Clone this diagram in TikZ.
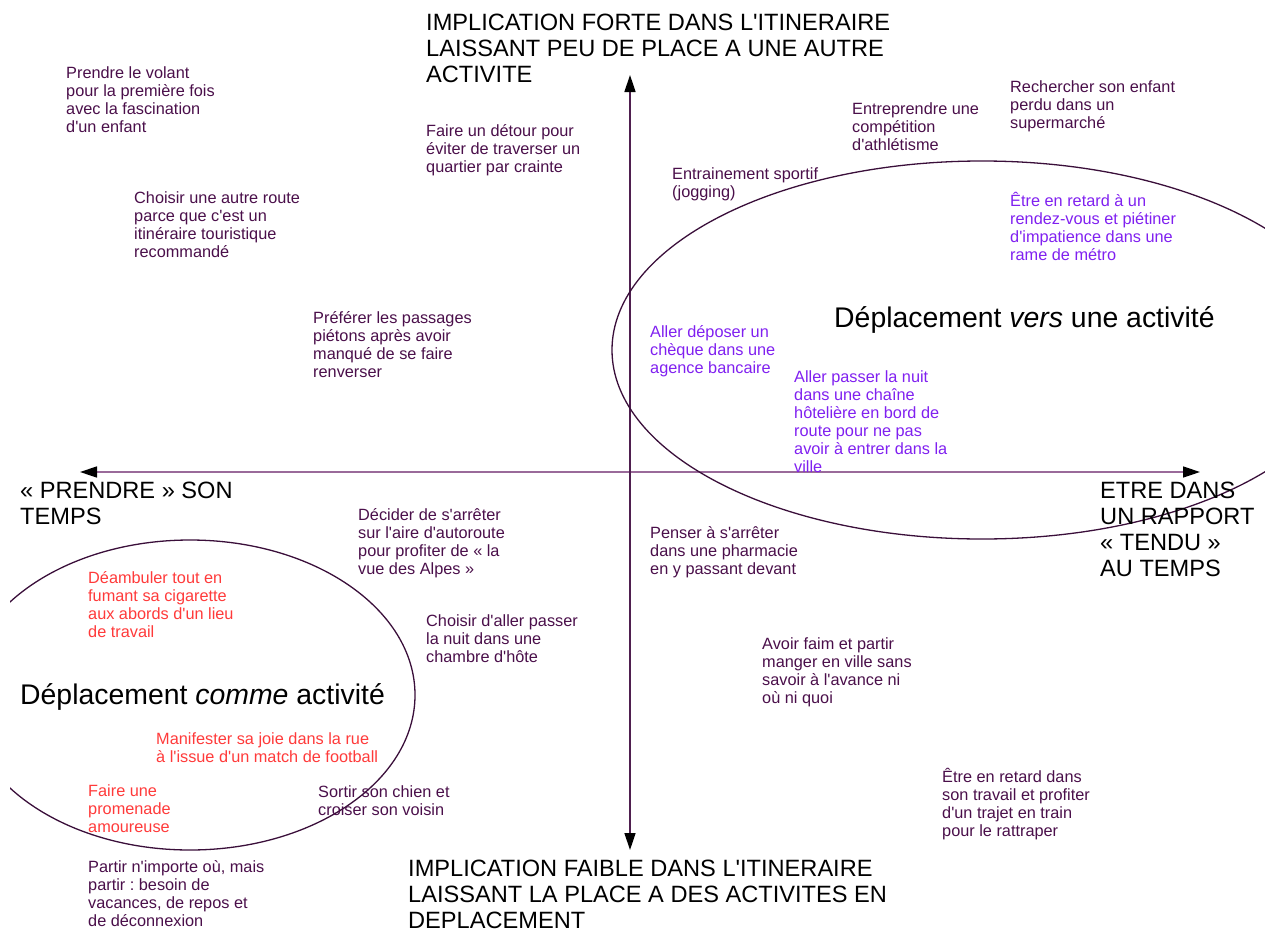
\documentclass[tikz,border=0pt]{standalone}
\usepackage{fontspec}
\newfontfamily\libsans{Liberation Sans}
\usepackage{xcolor}
\usetikzlibrary{arrows.meta}
\definecolor{prune}{HTML}{4A0F4A}
\definecolor{violette}{HTML}{8020F0}
\definecolor{rouge}{HTML}{FF3A3A}
\definecolor{axev}{HTML}{4F1F4F}
\definecolor{axeh}{HTML}{9A6A9A}
\definecolor{bord}{HTML}{3A0F3A}
\frenchspacing

\begin{document}
\begin{tikzpicture}[x=1pt, y=-1pt, >=latex,
    petit/.style={anchor=north west, inner sep=0pt, align=left, text=prune,
      font=\libsans\fontsize{16.3pt}{18pt}\selectfont},
    titre/.style={anchor=north west, inner sep=0pt, align=left, text=black,
      font=\libsans\fontsize{23.6pt}{26pt}\selectfont},
    grand/.style={anchor=north west, inner sep=0pt, text=black,
      font=\libsans\fontsize{28.4pt}{32pt}\selectfont},
    fleche/.style={{Triangle[length=17pt,width=11pt,color=black]}-{Triangle[length=17pt,width=11pt,color=black]},
      line width=1.5pt},
    bulle/.style={draw=bord, line width=1.3pt}]
                \useasboundingbox (0,0) rectangle (1265,934);

                % Axes
                \coordinate (axN) at (630,75);
                \coordinate (axS) at (630,850);
                \coordinate (axW) at (80,472);
                \coordinate (axE) at (1200,472);
                \draw[fleche, axeh] (axW) -- (axE);
                \draw[fleche, axev] (axS) -- (axN);

                % Ellipses
                \begin{scope}
                  \clip (10,0) rectangle (1265,934);
                  \draw[bulle] (190,695) ellipse [x radius=225pt, y radius=155pt];
                  \draw[bulle] (982,350) ellipse [x radius=370pt, y radius=189pt];
                \end{scope}

                % Titles
                \node[titre] (forte) at (426,14) {IMPLICATION FORTE DANS L'ITINERAIRE\\LAISSANT PEU DE PLACE A UNE AUTRE\\ACTIVITE};
                \node[titre] (prendre) at (20,482) {« PRENDRE » SON\\TEMPS};
                \node[titre] (tendu) at (1100,482) {ETRE DANS\\UN RAPPORT\\« TENDU »\\AU TEMPS};
                \node[titre] (faible) at (408,860) {IMPLICATION FAIBLE DANS L'ITINERAIRE\\LAISSANT LA PLACE A DES ACTIVITES EN\\DEPLACEMENT};
                \node[grand] (vers) at (834,306) {Déplacement \textit{vers} une activité};
                \node[grand] (comme) at (20,683) {Déplacement \textit{comme} activité};

                % Examples
                \node[petit] (volant) at (66,66) {Prendre le volant\\pour la première fois\\avec la fascination\\d'un enfant};
                \node[petit] (route) at (134,191) {Choisir une autre route\\parce que c'est  un\\itinéraire touristique\\recommandé};
                \node[petit] (detour) at (426,124) {Faire un détour pour\\éviter de traverser un\\quartier par crainte};
                \node[petit] (pietons) at (313,311) {Préférer les passages\\piétons après avoir\\manqué de se faire\\renverser};
                \node[petit] (jogging) at (672,167) {Entrainement sportif\\(jogging)};
                \node[petit] (athle) at (852,102) {Entreprendre une\\compétition\\d'athlétisme};
                \node[petit] (enfant) at (1010,80) {Rechercher son enfant\\perdu dans un\\supermarché};
                \node[petit, text=violette] (metro) at (1010,192) {Être en retard à un\\rendez-vous et piétiner\\d'impatience dans une\\rame de métro};
                \node[petit, text=violette] (cheque) at (650,325) {Aller déposer un\\chèque dans une\\agence bancaire};
                \node[petit, text=violette] (hotel) at (794,370) {Aller passer la nuit\\dans une chaîne\\hôtelière en bord de\\route pour ne pas\\avoir à entrer dans la\\ville};
                \node[petit] (alpes) at (358,508) {Décider de s'arrêter\\sur l'aire d'autoroute\\pour profiter de « la\\vue des Alpes »};
                \node[petit] (pharma) at (650,526) {Penser à s'arrêter\\dans une pharmacie\\en y passant devant};
                \node[petit] (hote) at (426,614) {Choisir d'aller passer\\la nuit dans une\\chambre d'hôte};
                \node[petit] (faim) at (762,637) {Avoir faim et partir\\manger en ville sans\\savoir à l'avance ni\\où ni quoi};
                \node[petit] (train) at (942,768) {Être en retard dans\\son travail et profiter\\d'un trajet en train\\pour le rattraper};
                \node[petit, text=rouge] (cigarette) at (88,571) {Déambuler tout en\\fumant sa cigarette\\aux abords d'un lieu\\de travail};
                \node[petit, text=rouge] (football) at (156,732) {Manifester sa joie dans la rue\\à l'issue d'un match de football};
                \node[petit, text=rouge] (promenade) at (88,784) {Faire une\\promenade\\amoureuse};
                \node[petit] (chien) at (318,785) {Sortir son chien et\\croiser son voisin};
                \node[petit] (partir) at (88,860) {Partir n'importe où, mais\\partir : besoin de\\vacances, de repos et\\de déconnexion};
            \end{tikzpicture}
\end{document}
